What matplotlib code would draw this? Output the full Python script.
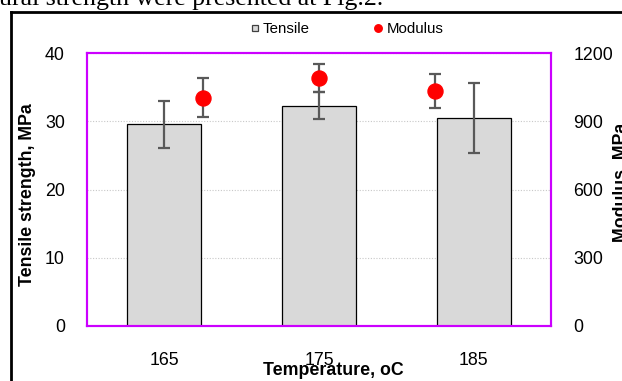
import matplotlib.pyplot as plt
import numpy as np
from matplotlib.lines import Line2D

plt.rcParams['font.family'] = ['Liberation Sans', 'DejaVu Sans']

# tensile test results vs processing temperature
temps = ['165', '175', '185']
tensile = [29.55, 32.3, 30.45]
tensile_err = [3.4, 2.0, 5.1]
modulus_x = [0.25, 1.0, 1.75]
modulus = [1004, 1091, 1033]
modulus_err = [87, 62, 76]

W, H = 622, 381
fig = plt.figure(figsize=(W / 100, H / 100), dpi=100)
ax = fig.add_axes([87 / W, (H - 326) / H, 464 / W, 273 / H])
ax2 = ax.twinx()

x = np.arange(len(temps))
ax.bar(x, tensile, width=0.48, color='#d9d9d9', edgecolor='black', linewidth=0.9, zorder=2)
ax.errorbar(x, tensile, yerr=tensile_err, fmt='none', ecolor='#595959',
            elinewidth=1.6, capsize=4.2, capthick=1.6, zorder=3)

ax2.errorbar(modulus_x, modulus, yerr=modulus_err, fmt='none', ecolor='#595959',
             elinewidth=1.6, capsize=4.2, capthick=1.6, zorder=3)
ax2.plot(modulus_x, modulus, 'o', color='#ff0000', markersize=10.8, zorder=4)

ax.set_xlim(-0.5, 2.5)
ax.set_ylim(0, 40)
ax.set_yticks([0, 10, 20, 30, 40])
ax.set_xticks(x)
ax.set_xticklabels(temps)
ax2.set_ylim(0, 1200)
ax2.set_yticks([0, 300, 600, 900, 1200])

ax.set_axisbelow(True)
ax.yaxis.grid(True, linestyle=(0, (1, 1.5)), color='#c8c8c8', linewidth=0.8)

for a in (ax, ax2):
    for s in a.spines.values():
        s.set_color('#cc00ff')
        s.set_linewidth(1.5)
    a.tick_params(length=0, labelsize=12.8)
ax.tick_params(axis='y', pad=16)
ax.tick_params(axis='x', pad=19)
ax2.tick_params(axis='y', pad=16)

ax.set_xlabel('Temperature, oC', fontsize=12.8, fontweight='bold')
ax.xaxis.set_label_coords(0.531, -0.162)
ax.xaxis.label.set_va('center')
ax.set_ylabel('Tensile strength, MPa', fontsize=12.8, fontweight='bold')
ax.yaxis.set_label_coords(-0.129, 0.48)
ax.yaxis.label.set_va('center')
ax2.set_ylabel('Modulus, MPa', fontsize=12.8, fontweight='bold', rotation=90)
ax2.yaxis.set_label_coords(1.151, 0.527)
ax2.yaxis.label.set_va('center')

handles = [
    Line2D([], [], marker='s', linestyle='none', markersize=4.6,
           markerfacecolor='#d9d9d9', markeredgecolor='#404040', markeredgewidth=0.9),
    Line2D([], [], marker='o', linestyle='none', markersize=5.4, color='#ff0000'),
]
fig.legend(handles, ['Tensile', 'Modulus'], ncol=2, frameon=False, fontsize=10.8,
           loc='center', bbox_to_anchor=(347 / W, (H - 29) / H),
           handlelength=0.5, handletextpad=0.3, columnspacing=4.3, borderpad=0)

# surrounding page: caption line and figure frame
fig.text(-1 / W, (H - 5) / H, 'ural strength were presented at Fig.2.',
         family='Liberation Serif', fontsize=18.6, va='baseline', ha='left')
fig.add_artist(Line2D([11 / W, 11 / W], [0, (H - 12) / H], color='black', linewidth=2,
                      transform=fig.transFigure))
fig.add_artist(Line2D([11 / W, 1], [(H - 12) / H, (H - 12) / H], color='black', linewidth=2,
                      transform=fig.transFigure))

fig.savefig('out.png', dpi=100)
